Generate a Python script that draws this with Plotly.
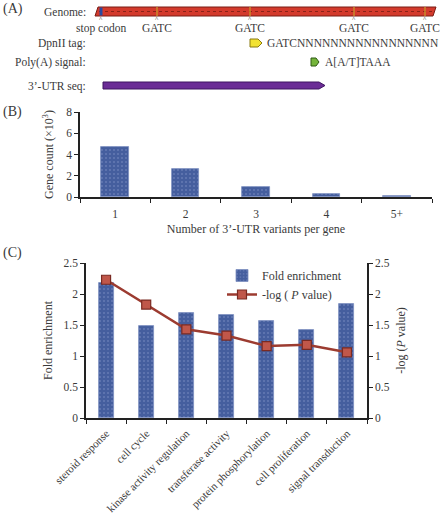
import plotly.graph_objects as go

# ---------------- data ----------------
# Panel A: schematic positions along the genome (in plot units)
genome_start, genome_end = 95, 436
stop_codon_pos = 101
gatc_sites = [157, 250, 354, 425]
site_labels = ["stop codon", "GATC", "GATC", "GATC", "GATC"]
dpnii_tag_pos = 250
dpnii_tag_seq = "GATC" + "N" * 17
polya_pos = 311
polya_seq = "A[A/T]TAAA"
utr_start, utr_end = 103, 325
row_labels = ["Genome:", "DpnII tag:", "Poly(A) signal:", "3’-UTR seq:"]

# Panel B
variant_cats = ["1", "2", "3", "4", "5+"]
gene_counts = [4.69, 2.63, 0.90, 0.24, 0.05]

# Panel C
go_terms = ["steroid response", "cell cycle", "kinase activity regulation",
            "transferase activity", "protein phosphorylation",
            "cell proliferation", "signal transduction"]
fold_enrichment = [2.17, 1.49, 1.70, 1.66, 1.57, 1.42, 1.84]
neg_log_p = [2.23, 1.83, 1.43, 1.33, 1.16, 1.18, 1.06]

# ---------------- style ----------------
W, H = 448, 521
FONT = "Liberation Serif"
TXT = "#3a3a3a"
BAR = "#455e9e"
LINE = "#9c3b30"
bar_marker = dict(color=BAR, line=dict(color="#7d8fc0", width=0.8),
                  pattern=dict(shape=".", fgcolor="#8396c8", size=4, solidity=0.2))

fig = go.Figure()

# Panel B bars
fig.add_trace(go.Bar(x=variant_cats, y=gene_counts, xaxis="x", yaxis="y", width=0.39,
                     marker=bar_marker, showlegend=False))

# Panel C bars + line
fig.add_trace(go.Bar(x=go_terms, y=fold_enrichment, xaxis="x2", yaxis="y2", width=0.375,
                     name="Fold enrichment", marker=bar_marker))
fig.add_trace(go.Scatter(
    x=go_terms, y=neg_log_p, xaxis="x2", yaxis="y4", mode="lines+markers",
    name="-log ( <i>P</i> value)",
    line=dict(color=LINE, width=2.5),
    marker=dict(symbol="square", size=9, color="#c0574a",
                line=dict(color="#7a2a22", width=1.2))))

# Panel A invisible anchor trace
fig.add_trace(go.Scatter(x=[0], y=[0], xaxis="x3", yaxis="y3", mode="markers",
                         marker=dict(opacity=0), showlegend=False, hoverinfo="skip"))

shapes = []
annotations = []

def ann(x, y, text, size=11, xanchor="center", color=TXT, xref="x3", yref="y3", **kw):
    annotations.append(dict(x=x, y=y, xref=xref, yref=yref, text=text, showarrow=False,
                            xanchor=xanchor, yanchor="middle",
                            font=dict(family=FONT, size=size, color=color), **kw))

# --- Panel A ---
gy0, gy1 = 7, 16
shapes.append(dict(type="path", xref="x3", yref="y3",
                   path=f"M {genome_start+3},{gy0} L {genome_end},{gy0} L {genome_end-3},{gy1} L {genome_start},{gy1} Z",
                   fillcolor="#d33a2c", line=dict(color="#7a1c14", width=1)))
shapes.append(dict(type="line", xref="x3", yref="y3", x0=genome_start+4, x1=genome_end-4,
                   y0=(gy0+gy1)/2, y1=(gy0+gy1)/2, line=dict(color="#8a2218", width=1, dash="dot")))
shapes.append(dict(type="rect", xref="x3", yref="y3", x0=stop_codon_pos-1.5, x1=stop_codon_pos+1.5,
                   y0=gy0+0.5, y1=gy1-0.5, fillcolor="#2a4aa0", line=dict(width=0)))
for g in gatc_sites:
    shapes.append(dict(type="line", xref="x3", yref="y3", x0=g, x1=g, y0=gy0, y1=gy1,
                       line=dict(color="#c88a2a", width=1.5)))
for xpos, lab in zip([stop_codon_pos] + gatc_sites, site_labels):
    ann(xpos, 18.5, "^", size=7)
    ann(xpos, 28, lab, size=11.5)

ann(88, 11.5, row_labels[0], size=11.5, xanchor="right")
ann(88, 43, row_labels[1], size=11.5, xanchor="right")
ann(88, 62, row_labels[2], size=11.5, xanchor="right")
ann(88, 86, row_labels[3], size=11.5, xanchor="right")
ann(1, 9, "(A)", size=14, xanchor="left")

# DpnII tag arrow (yellow)
tx = dpnii_tag_pos
shapes.append(dict(type="path", xref="x3", yref="y3",
                   path=f"M {tx},{39} L {tx+8},{39} L {tx+12},{43} L {tx+8},{47} L {tx},{47} Z",
                   fillcolor="#f2e232", line=dict(color="#8a7a10", width=1)))
ann(tx + 15, 43, dpnii_tag_seq, size=11.5, xanchor="left")

# Poly(A) arrow (green)
px = polya_pos
shapes.append(dict(type="path", xref="x3", yref="y3",
                   path=f"M {px},{58} L {px+5},{58} L {px+8},{62} L {px+5},{66} L {px},{66} Z",
                   fillcolor="#74b43a", line=dict(color="#2f5a14", width=1)))
ann(px + 12, 62, polya_seq, size=11.5, xanchor="left")

# 3'-UTR arrow (purple)
shapes.append(dict(type="path", xref="x3", yref="y3",
                   path=f"M {utr_start},{82} L {utr_end-6},{82} L {utr_end},{85.5} L {utr_end-6},{89} L {utr_start},{89} Z",
                   fillcolor="#6b2c96", line=dict(color="#3e1560", width=1)))

# --- panel labels ---
annotations.append(dict(x=1/W, y=1-112/H, xref="paper", yref="paper", text="(B)", showarrow=False,
                        xanchor="left", yanchor="middle", font=dict(family=FONT, size=14, color=TXT)))
annotations.append(dict(x=1/W, y=1-253/H, xref="paper", yref="paper", text="(C)", showarrow=False,
                        xanchor="left", yanchor="middle", font=dict(family=FONT, size=14, color=TXT)))

axis_common = dict(showline=True, linecolor="#222222", linewidth=1.5, showgrid=False, zeroline=False,
                   ticks="outside", tickcolor="#222222", ticklen=4, tickwidth=1.2, automargin=False,
                   tickfont=dict(family=FONT, size=11.5, color=TXT))

fig.update_layout(
    width=W, height=H, margin=dict(l=0, r=0, t=0, b=0, pad=0, autoexpand=False),
    paper_bgcolor="white", plot_bgcolor="white",
    font=dict(family=FONT, color=TXT),
    bargap=0,
    showlegend=True,
    legend=dict(x=222/W, y=1-261/H, xanchor="left", yanchor="top", bgcolor="rgba(0,0,0,0)",
                font=dict(family=FONT, size=12, color=TXT), tracegroupgap=2, itemwidth=30),
    xaxis=dict(domain=[80/W, 432/W], anchor="y", type="category", tickson="boundaries",
               ticklabelstandoff=5,
               title=dict(text="Number of 3’-UTR variants per gene", standoff=6,
                          font=dict(family=FONT, size=12, color=TXT)), **axis_common),
    yaxis=dict(domain=[1-197/H, 1-112/H], anchor="x", range=[0, 8], dtick=2,
               title=dict(text="Gene count (×10<sup>3</sup>)", standoff=10,
                          font=dict(family=FONT, size=12, color=TXT)), **axis_common),
    xaxis2=dict(domain=[86/W, 367/W], anchor="y2", type="category", tickson="boundaries",
                tickangle=-45, ticklabelstandoff=3,
                **{**axis_common, "tickfont": dict(family=FONT, size=11, color=TXT)}),
    yaxis2=dict(domain=[1-418/H, 1-263/H], anchor="x2", range=[0, 2.5], dtick=0.5,
                title=dict(text="Fold enrichment", standoff=8,
                           font=dict(family=FONT, size=12, color=TXT)), **axis_common),
    yaxis4=dict(overlaying="y2", side="right", anchor="x2", range=[0, 2.5], dtick=0.5,
                title=dict(text="-log (<i>P</i> value)", standoff=8,
                           font=dict(family=FONT, size=12, color=TXT)), **axis_common),
    xaxis3=dict(domain=[0, 1], anchor="y3", range=[0, W], visible=False, fixedrange=True),
    yaxis3=dict(domain=[1-100/H, 1], anchor="x3", range=[100, 0], visible=False, fixedrange=True),
    shapes=shapes, annotations=annotations,
)

fig.write_html("out.html", config={"displayModeBar": False},
               post_script="document.body.style.margin='0';document.body.style.overflow='hidden';")
